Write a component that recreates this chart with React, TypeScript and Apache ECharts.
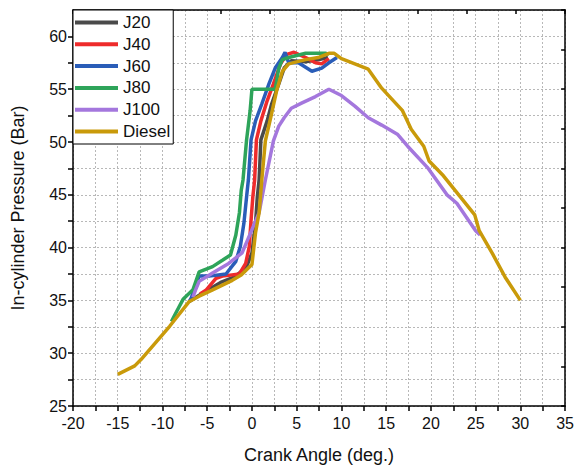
import React, { useEffect, useRef } from "react";
import * as echarts from "echarts";

const seriesNames = ["J20", "J40", "J60", "J80", "J100", "Diesel"];
const seriesColors = ["#4a4a4a", "#ee2b2b", "#2a5db8", "#2ea45a", "#a477dd", "#c99a0a"];

const j20: number[][] = [
  [-7.0, 34.9], [-5.5, 35.7], [-3.5, 36.7], [-2.0, 37.2], [-1.1, 37.8], [-0.6, 38.2], [0.0, 39.5],
  [0.4, 42.3], [0.6, 44.8], [0.8, 46.4], [1.0, 50.2], [1.7, 52.0], [2.2, 53.6], [3.0, 55.5],
  [3.6, 57.0], [4.4, 57.7], [6.0, 57.6], [7.5, 57.8], [8.5, 58.0],
];
const j40: number[][] = [
  [-5.8, 35.6], [-5.1, 36.0], [-4.0, 37.1], [-3.3, 37.3], [-1.4, 37.5], [-0.7, 38.5], [-0.3, 40.1],
  [-0.1, 42.6], [0.1, 44.8], [0.3, 46.4], [0.5, 50.2], [1.0, 52.0], [1.7, 53.9], [2.4, 55.5],
  [3.2, 57.4], [3.9, 58.3], [4.7, 58.5], [5.2, 58.3], [6.0, 58.0], [7.1, 57.5], [7.8, 57.4], [8.6, 57.9],
];
const j60: number[][] = [
  [-7.0, 34.9], [-6.8, 35.2], [-5.9, 37.3], [-4.8, 37.3], [-2.9, 37.5], [-1.8, 38.7], [-1.3, 40.1],
  [-0.9, 42.3], [-0.6, 44.8], [-0.4, 46.4], [-0.1, 50.2], [0.4, 52.0], [1.1, 53.6], [1.9, 55.5],
  [2.6, 57.0], [3.4, 58.0], [3.7, 58.5], [4.1, 57.5], [5.2, 57.5], [6.7, 56.7], [7.8, 57.0],
  [8.6, 57.5], [9.5, 58.0],
];
const j80: number[][] = [
  [-9.0, 33.0], [-8.7, 33.5], [-7.7, 35.1], [-6.6, 36.0], [-5.9, 37.7], [-4.4, 38.2], [-3.3, 38.8],
  [-2.4, 39.3], [-1.8, 41.2], [-1.4, 43.3], [-1.2, 45.4], [-1.0, 46.4], [-0.6, 50.2], [-0.2, 53.0],
  [0.0, 55.0], [1.9, 55.0], [2.6, 55.0], [3.0, 57.0], [3.4, 57.8], [4.1, 58.0], [6.0, 58.4],
  [8.2, 58.4], [8.6, 58.3],
];
const j100: number[][] = [
  [-6.6, 35.3], [-6.3, 36.0], [-5.9, 36.8], [-4.4, 37.6], [-2.6, 38.5], [-1.1, 39.5], [0.0, 41.7],
  [0.8, 43.3], [1.5, 46.4], [2.4, 50.1], [3.0, 51.5], [3.6, 52.3], [4.4, 53.2], [5.6, 53.7],
  [7.1, 54.3], [8.6, 55.0], [10.0, 54.4], [11.5, 53.4], [13.0, 52.3], [14.5, 51.6], [16.3, 50.7],
  [17.4, 49.6], [19.6, 47.6], [21.8, 45.0], [22.9, 44.2], [25.0, 41.6], [25.5, 41.2],
];
const diesel: number[][] = [
  [-15.0, 28.0], [-13.1, 28.8], [-12.4, 29.4], [-9.2, 32.55], [-7.0, 34.9], [-5.9, 35.4],
  [-4.4, 36.0], [-2.2, 36.9], [-1.2, 37.4], [0.0, 38.4], [0.4, 41.4], [0.8, 43.3], [1.1, 46.4],
  [1.5, 50.1], [2.2, 52.7], [2.8, 55.0], [3.4, 56.7], [4.1, 57.4], [6.0, 57.8], [7.4, 58.0],
  [8.6, 58.4], [9.2, 58.4], [10.0, 57.9], [13.0, 56.9], [14.5, 55.1], [16.8, 53.0], [17.8, 51.2],
  [18.5, 50.4], [19.2, 49.6], [19.8, 48.2], [21.4, 46.8], [23.2, 44.9], [24.9, 43.1], [25.4, 41.6],
  [26.9, 39.4], [28.3, 37.2], [30.0, 35.0],
];
const seriesData = [j20, j40, j60, j80, j100, diesel];

const xMin = -20, xMax = 35, xStep = 2.5;
const yMin = 25, yMax = 62.5, yStep = 2.5;

const FONT = "Liberation Sans, Arial, sans-serif";

export default function App() {
  const ref = useRef<HTMLDivElement>(null);
  useEffect(() => {
    if (!ref.current) return;
    const chart = echarts.init(ref.current, undefined, { renderer: "svg" });
    const dotted = { show: true, lineStyle: { color: "#b8b8b8", type: [2, 2] as any, width: 1 } };
    chart.setOption({
      animation: false,
      backgroundColor: "#fff",
      textStyle: { fontFamily: FONT },
      grid: { left: 73, right: 9, top: 10, bottom: 62 },
      legend: {
        orient: "vertical",
        left: 73,
        top: 10,
        data: seriesNames,
        icon: "rect",
        itemWidth: 43,
        itemHeight: 4,
        itemGap: 4.8,
        itemTextGap: 4,
        padding: [4, 3, 4, 2],
        backgroundColor: "#fff",
        borderColor: "#000",
        borderWidth: 1,
        textStyle: { fontSize: 17, color: "#111", fontFamily: FONT },
      },
      xAxis: [
        {
          type: "value",
          min: xMin,
          max: xMax,
          interval: xStep,
          name: "Crank Angle (deg.)",
          nameLocation: "middle",
          nameGap: 40,
          nameTextStyle: { fontSize: 18, color: "#111", fontFamily: FONT },
          axisLine: { show: true, onZero: false, lineStyle: { color: "#000", width: 1.5 } },
          axisTick: { show: true, inside: false, length: 5, lineStyle: { color: "#000", width: 1.5 } },
          axisLabel: {
            fontSize: 16,
            color: "#111",
            margin: 9,
            formatter: (v: number) => (v % 5 === 0 ? String(v) : ""),
          },
          splitLine: dotted,
        },
        {
          type: "value",
          position: "top",
          min: 0,
          max: 10,
          interval: 1,
          axisLine: { show: true, onZero: false, lineStyle: { color: "#000", width: 1.5 } },
          axisTick: { show: true, inside: true, length: 4, lineStyle: { color: "#000", width: 1.5 } },
          axisLabel: { show: false },
          splitLine: { show: false },
        },
      ],
      yAxis: [
        {
          type: "value",
          min: yMin,
          max: yMax,
          interval: yStep,
          name: "In-cylinder Pressure (Bar)",
          nameLocation: "middle",
          nameGap: 46,
          nameTextStyle: { fontSize: 18, color: "#111", fontFamily: FONT },
          axisLine: { show: true, onZero: false, lineStyle: { color: "#000", width: 1.5 } },
          axisTick: { show: true, inside: false, length: 5, lineStyle: { color: "#000", width: 1.5 } },
          axisLabel: {
            fontSize: 16,
            color: "#111",
            margin: 6,
            showMaxLabel: false,
            formatter: (v: number) => (v % 5 === 0 ? String(v) : ""),
          },
          splitLine: dotted,
        },
        {
          type: "value",
          position: "right",
          min: 0,
          max: 10,
          interval: 1,
          axisLine: { show: true, onZero: false, lineStyle: { color: "#000", width: 1.5 } },
          axisTick: { show: true, inside: true, length: 4, lineStyle: { color: "#000", width: 1.5 } },
          axisLabel: { show: false },
          splitLine: { show: false },
        },
      ],
      series: seriesNames.map((name, i) => ({
        name,
        type: "line",
        xAxisIndex: 0,
        yAxisIndex: 0,
        data: seriesData[i],
        showSymbol: false,
        symbol: "none",
        color: seriesColors[i],
        lineStyle: { width: 3.5, color: seriesColors[i] },
        z: 2 + i,
      })),
    });
    return () => chart.dispose();
  }, []);
  return <div ref={ref} style={{ width: 577, height: 469, position: "absolute", left: 0, top: 0 }} />;
}
